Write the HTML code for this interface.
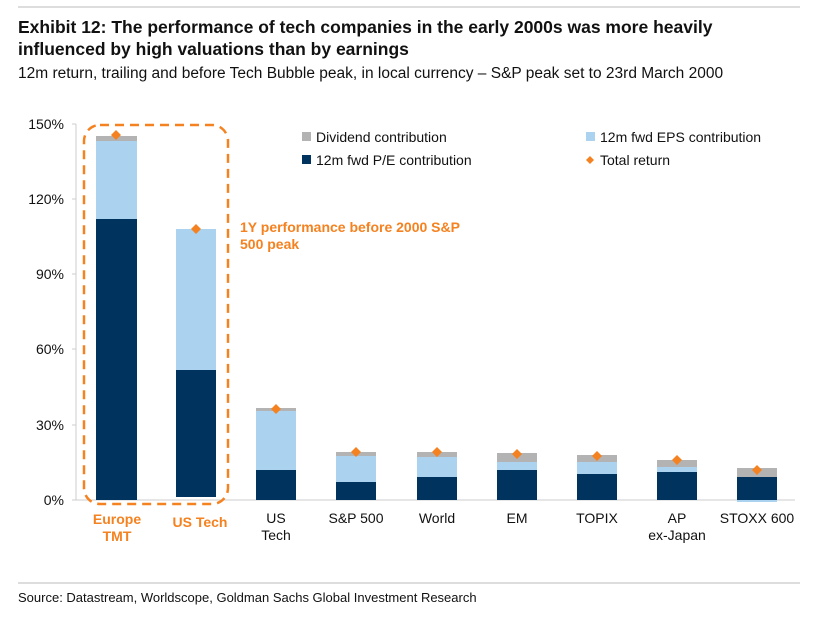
<!DOCTYPE html>
<html><head><meta charset="utf-8"><style>
body{margin:0;background:#fff;width:837px;height:612px;overflow:hidden;font-family:"Liberation Sans",sans-serif}
</style></head><body>
<svg width="837" height="612" xmlns="http://www.w3.org/2000/svg" font-family="Liberation Sans, sans-serif">
<line x1="18" y1="7" x2="800" y2="7" stroke="#bbb" stroke-width="1"/>
<text x="18" y="33" font-size="17.5" font-weight="bold" fill="#111">Exhibit 12: The performance of tech companies in the early 2000s was more heavily</text>
<text x="18" y="55" font-size="17.5" font-weight="bold" fill="#111">influenced by high valuations than by earnings</text>
<text x="18" y="78" font-size="15.5" fill="#111">12m return, trailing and before Tech Bubble peak, in local currency – S&amp;P peak set to 23rd March 2000</text>
<g font-size="14" fill="#111" text-anchor="end">
<text x="64" y="129">150%</text><text x="64" y="204">120%</text><text x="64" y="279">90%</text>
<text x="64" y="354">60%</text><text x="64" y="430">30%</text><text x="64" y="505">0%</text>
</g>
<g stroke="#ccc" stroke-width="1">
<line x1="76" y1="124" x2="76" y2="500"/>
<line x1="72" y1="124" x2="76" y2="124"/><line x1="72" y1="199" x2="76" y2="199"/><line x1="72" y1="274" x2="76" y2="274"/>
<line x1="72" y1="349" x2="76" y2="349"/><line x1="72" y1="425" x2="76" y2="425"/><line x1="72" y1="500" x2="76" y2="500"/>
<line x1="76" y1="500" x2="795" y2="500"/>
</g>
<rect x="96" y="219" width="41" height="281" fill="#00345f"/>
<rect x="96" y="141" width="41" height="78" fill="#abd3ef"/>
<rect x="96" y="136" width="41" height="5" fill="#b3b3b3"/>
<rect x="176" y="370" width="40" height="127" fill="#00345f"/>
<rect x="176" y="229" width="40" height="141" fill="#abd3ef"/>
<rect x="256" y="470" width="40" height="30" fill="#00345f"/><rect x="256" y="411" width="40" height="59" fill="#abd3ef"/><rect x="256" y="408" width="40" height="3" fill="#b3b3b3"/>
<rect x="336" y="482" width="40" height="18" fill="#00345f"/><rect x="336" y="456" width="40" height="26" fill="#abd3ef"/><rect x="336" y="452" width="40" height="4" fill="#b3b3b3"/>
<rect x="417" y="477" width="40" height="23" fill="#00345f"/><rect x="417" y="457" width="40" height="20" fill="#abd3ef"/><rect x="417" y="452" width="40" height="5" fill="#b3b3b3"/>
<rect x="497" y="470" width="40" height="30" fill="#00345f"/><rect x="497" y="462" width="40" height="8" fill="#abd3ef"/><rect x="497" y="453" width="40" height="9" fill="#b3b3b3"/>
<rect x="577" y="474" width="40" height="26" fill="#00345f"/><rect x="577" y="462" width="40" height="12" fill="#abd3ef"/><rect x="577" y="455" width="40" height="7" fill="#b3b3b3"/>
<rect x="657" y="472" width="40" height="28" fill="#00345f"/><rect x="657" y="467" width="40" height="5" fill="#abd3ef"/><rect x="657" y="460" width="40" height="7" fill="#b3b3b3"/>
<rect x="737" y="477" width="40" height="23" fill="#00345f"/><rect x="737" y="468" width="40" height="9" fill="#b3b3b3"/><rect x="737" y="500" width="40" height="2" fill="#abd3ef"/>
<g fill="#f58220">
<path d="M116 130l5 5-5 5-5-5z"/><path d="M196 224l5 5-5 5-5-5z"/>
<path d="M276 404l5 5-5 5-5-5z"/><path d="M356 447l5 5-5 5-5-5z"/><path d="M437 447l5 5-5 5-5-5z"/>
<path d="M517 449l5 5-5 5-5-5z"/><path d="M597 451l5 5-5 5-5-5z"/><path d="M677 455l5 5-5 5-5-5z"/><path d="M757 465l5 5-5 5-5-5z"/>
</g>
<rect x="84" y="125" width="144" height="379" rx="16" fill="none" stroke="#f58220" stroke-width="2.5" stroke-dasharray="9,6"/>
<text x="240" y="232" font-size="14" font-weight="bold" fill="#f58220">1Y performance before 2000 S&amp;P</text>
<text x="240" y="249" font-size="14" font-weight="bold" fill="#f58220">500 peak</text>
<rect x="302" y="132" width="9" height="9" fill="#b3b3b3"/><text x="316" y="142" font-size="14" fill="#111">Dividend contribution</text>
<rect x="302" y="155" width="9" height="9" fill="#00345f"/><text x="316" y="165" font-size="14" fill="#111">12m fwd P/E contribution</text>
<rect x="586" y="132" width="9" height="9" fill="#abd3ef"/><text x="600" y="142" font-size="14" fill="#111">12m fwd EPS contribution</text>
<path d="M590 156l4 4-4 4-4-4z" fill="#f58220"/><text x="600" y="165" font-size="14" fill="#111">Total return</text>
<g font-size="14" text-anchor="middle">
<text x="117" y="524" font-weight="bold" fill="#f58220">Europe</text><text x="117" y="541" font-weight="bold" fill="#f58220">TMT</text>
<text x="200" y="527" font-weight="bold" fill="#f58220">US Tech</text>
<g fill="#111">
<text x="276" y="523">US</text><text x="276" y="540">Tech</text>
<text x="356" y="523">S&amp;P 500</text><text x="437" y="523">World</text><text x="517" y="523">EM</text>
<text x="597" y="523">TOPIX</text><text x="677" y="523">AP</text><text x="677" y="540">ex-Japan</text><text x="757" y="523">STOXX 600</text>
</g></g>
<line x1="18" y1="583" x2="800" y2="583" stroke="#bbb" stroke-width="1"/>
<text x="18" y="602" font-size="13" fill="#111">Source: Datastream, Worldscope, Goldman Sachs Global Investment Research</text>
</svg>
</body></html>
